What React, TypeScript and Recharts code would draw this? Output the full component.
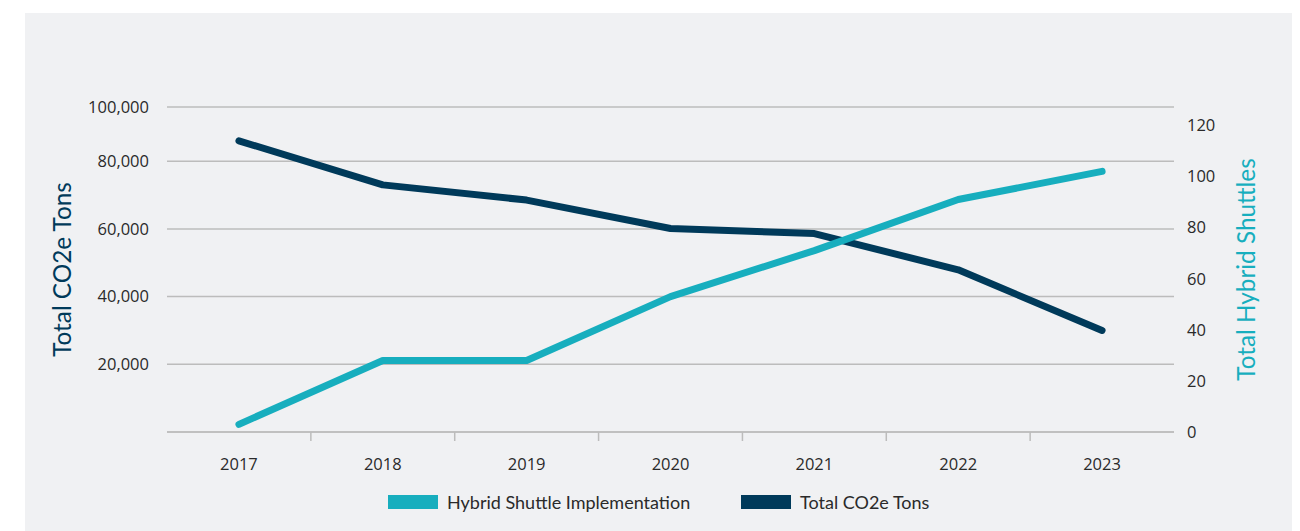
import { LineChart, Line, XAxis, YAxis, CartesianGrid, Legend } from "recharts";

const years = ["2017", "2018", "2019", "2020", "2021", "2022", "2023"];
const hybridShuttles = [3, 28, 28, 53, 71, 91, 102];
const co2Tons = [86000, 73000, 68500, 60100, 58600, 47900, 30000];

// left ticks: the top gridline in the source sits a bit below where 100,000 would be
const leftTickValues = [20000, 40000, 60000, 80000, 96000];
const leftTickLabels = ["20,000", "40,000", "60,000", "80,000", "100,000"];
const rightTicks = [0, 20, 40, 60, 80, 100, 120];

const seriesNames = ["Hybrid Shuttle Implementation", "Total CO2e Tons"];

const data = years.map((year, i) => ({
  year,
  hybrid: hybridShuttles[i],
  co2: co2Tons[i],
}));

const TEAL = "#17aebe";
const NAVY = "#003a5a";
const GRID = "#bcbcbc";
const TICK_FONT = "'Open Sans', sans-serif";
const TITLE_FONT = "Lato, sans-serif";

const CHART_W = 1272;
const CHART_H = 518;
const LEFT_W = 142;
const RIGHT_W = 123;
const PLOT_W = CHART_W - LEFT_W - RIGHT_W;
const BAND = PLOT_W / years.length;

function YearTick(props: any) {
  const { x, y, payload, index } = props;
  const last = index === years.length - 1;
  return (
    <g>
      <text
        x={x}
        y={y + 31}
        textAnchor="middle"
        dominantBaseline="central"
        fontFamily={TICK_FONT}
        fontSize={16.5}
        fill="#2a2a2a"
      >
        {payload.value}
      </text>
      {!last && (
        <line
          x1={x + BAND / 2}
          x2={x + BAND / 2}
          y1={y}
          y2={y + 9}
          stroke={GRID}
          strokeWidth={1.5}
        />
      )}
    </g>
  );
}

function AxisTitle(props: any) {
  const { viewBox, text, color, dx } = props;
  if (!viewBox) return null;
  const cx = viewBox.x + dx;
  const cy = viewBox.y + viewBox.height / 2;
  return (
    <text
      x={cx}
      y={cy}
      transform={`rotate(-90, ${cx}, ${cy})`}
      textAnchor="middle"
      dominantBaseline="central"
      fontFamily={TITLE_FONT}
      fontSize={24.3}
      fill={color}
    >
      {text}
    </text>
  );
}

function ChartLegend() {
  const colors = [TEAL, NAVY];
  return (
    <div
      style={{
        height: 24,
        display: "flex",
        alignItems: "center",
        paddingLeft: 363,
        fontFamily: TITLE_FONT,
        fontSize: 18,
        color: "#2a2a2a",
      }}
    >
      {seriesNames.map((name, i) => (
        <div
          key={name}
          style={{
            display: "flex",
            alignItems: "center",
            width: i === 0 ? 353 : undefined,
          }}
        >
          <span
            style={{
              display: "inline-block",
              width: 50,
              height: 14,
              background: colors[i],
              marginRight: 9,
            }}
          />
          <span>{name}</span>
        </div>
      ))}
    </div>
  );
}

export default function App() {
  return (
    <div
      style={{
        marginLeft: 17,
        marginTop: 5,
        width: CHART_W,
        height: CHART_H,
        background: "#f0f1f3",
      }}
    >
      <LineChart
        width={CHART_W}
        height={CHART_H}
        data={data}
        margin={{ top: 94, right: 0, bottom: 17, left: 0 }}
      >
        <CartesianGrid
          yAxisId="left"
          vertical={false}
          stroke={GRID}
          strokeWidth={1.5}
        />
        <XAxis
          dataKey="year"
          scale="band"
          height={58}
          axisLine={{ stroke: GRID, strokeWidth: 1.5 }}
          tickLine={false}
          tickSize={0}
          tickMargin={0}
          interval={0}
          tick={<YearTick />}
        />
        <YAxis
          yAxisId="left"
          orientation="left"
          width={LEFT_W}
          domain={[0, 96000]}
          ticks={leftTickValues}
          tickFormatter={(v: number) => leftTickLabels[leftTickValues.indexOf(v)]}
          axisLine={false}
          tickLine={false}
          tickSize={0}
          tickMargin={18}
          interval={0}
          tick={{ fontFamily: TICK_FONT, fontSize: 16.5, fill: "#2a2a2a" }}
          label={<AxisTitle text="Total CO2e Tons" color={NAVY} dx={36} />}
        />
        <YAxis
          yAxisId="right"
          orientation="right"
          width={RIGHT_W}
          domain={[0, 127.2]}
          ticks={rightTicks}
          axisLine={false}
          tickLine={false}
          tickSize={0}
          tickMargin={13}
          interval={0}
          tick={{ fontFamily: TICK_FONT, fontSize: 16.5, fill: "#2a2a2a" }}
          label={<AxisTitle text="Total Hybrid Shuttles" color={TEAL} dx={71} />}
        />
        <Legend
          verticalAlign="bottom"
          content={<ChartLegend />}
          wrapperStyle={{ left: 0, width: CHART_W }}
        />
        <Line
          yAxisId="left"
          dataKey="co2"
          name={seriesNames[1]}
          type="linear"
          stroke={NAVY}
          strokeWidth={7}
          strokeLinecap="round"
          strokeLinejoin="round"
          dot={false}
          activeDot={false}
          isAnimationActive={false}
        />
        <Line
          yAxisId="right"
          dataKey="hybrid"
          name={seriesNames[0]}
          type="linear"
          stroke={TEAL}
          strokeWidth={7}
          strokeLinecap="round"
          strokeLinejoin="round"
          dot={false}
          activeDot={false}
          isAnimationActive={false}
        />
      </LineChart>
    </div>
  );
}
